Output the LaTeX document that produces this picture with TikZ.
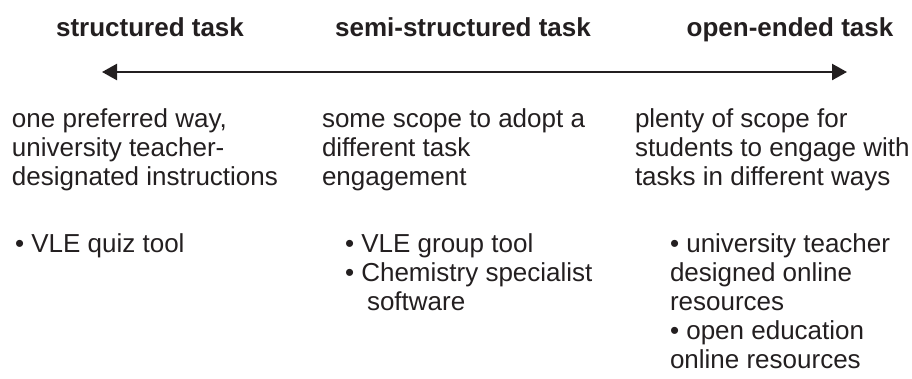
\documentclass[tikz,border=0pt]{standalone}
\usepackage{fontspec}
\setmainfont{Liberation Sans}
\usetikzlibrary{arrows.meta}
\definecolor{ink}{HTML}{231F20}
\newcommand{\stack}[1]{\vtop{\baselineskip=29pt\lineskiplimit=-20pt #1}}
\begin{document}
\begin{tikzpicture}[x=1pt,y=-1pt,
  every node/.style={inner sep=0pt, outer sep=0pt, text=ink},
  head/.style={font=\fontsize{26}{29}\selectfont\bfseries, anchor=base},
  body/.style={font=\fontsize{26}{29}\selectfont, anchor=base west},
  scale line/.style={draw=ink, line width=2.4pt,
    {Triangle[length=15pt,width=16pt]}-{Triangle[length=15pt,width=16pt]}}]
\useasboundingbox (0,0) rectangle (912,378);
\node[head] (h1) at (150,36) {structured task};
\node[head] (h2) at (463,36) {semi-structured task};
\node[head] (h3) at (790,36) {open-ended task};
\coordinate (L) at (102,72);
\coordinate (R) at (847,72);
\draw[scale line] (L) -- (R);
\node[body] (d1) at (12,127) {\stack{\hbox{one preferred way,}\hbox{university teacher-}\hbox{designated instructions}}};
\node[body] (d2) at (322,127) {\stack{\hbox{some scope to adopt a}\hbox{different task}\hbox{engagement}}};
\node[body] (d3) at (635,127) {\stack{\hbox{plenty of scope for}\hbox{students to engage with}\hbox{tasks in different ways}}};
\node[body] (t1) at (15,252) {\stack{\hbox{• VLE quiz tool}}};
\node[body] (t2) at (345,252) {\stack{\hbox{• VLE group tool}\hbox{• Chemistry specialist}\hbox{\hspace*{22pt}software}}};
\node[body] (t3) at (670,252) {\stack{\hbox{• university teacher}\hbox{designed online}\hbox{resources}\hbox{• open education}\hbox{online resources}}};
\end{tikzpicture}
\end{document}
